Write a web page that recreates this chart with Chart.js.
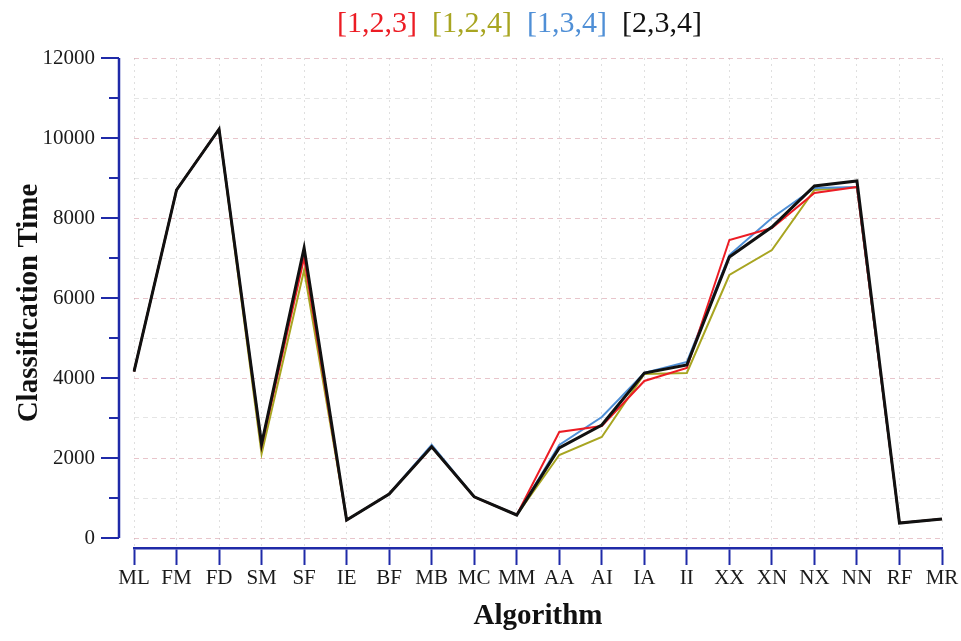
<!DOCTYPE html>
<html>
<head>
<meta charset="utf-8">
<title>Classification Time</title>
<script src="https://cdn.jsdelivr.net/npm/chart.js@4.4.1/dist/chart.umd.min.js"></script>
<style>
  html, body { margin: 0; padding: 0; background: #fff; }
</style>
</head>
<body>
<canvas id="timeChart" width="961" height="641"></canvas>
<script>
// Algorithms on the x axis
const algorithms = ["ML", "FM", "FD", "SM", "SF", "IE", "BF", "MB", "MC", "MM",
                    "AA", "AI", "IA", "II", "XX", "XN", "NX", "NN", "RF", "MR"];

// Classification time for every feature combination
const time_123 = [4160, 8700, 10220, 2300, 7000, 450, 1100, 2280, 1030, 575,
                  2650, 2800, 3925, 4250, 7450, 7750, 8625, 8775, 375, 475];
const time_124 = [4160, 8700, 10220, 2100, 6700, 450, 1100, 2280, 1030, 575,
                  2075, 2525, 4100, 4125, 6575, 7200, 8700, 8775, 375, 475];
const time_134 = [4160, 8700, 10220, 2350, 7100, 450, 1100, 2330, 1030, 575,
                  2325, 3025, 4125, 4400, 7075, 8000, 8750, 8775, 375, 475];
const time_234 = [4160, 8700, 10220, 2350, 7250, 450, 1100, 2280, 1030, 575,
                  2250, 2825, 4125, 4325, 7025, 7775, 8800, 8925, 375, 475];

// Y axis ticks
const yTickLabels = [0, 2000, 4000, 6000, 8000, 10000, 12000];
const yMinorStep = 1000;
const yMax = 12000;

const axisBlue = "#1f2aa8";
const serif = "'Liberation Serif', 'Times New Roman', serif";

// Y axis is drawn a little left of the plot, ending at 0
const yAxisLine = {
    id: "yAxisLine",
    afterDraw(chart) {
        const y = chart.scales.y;
        const ctx = chart.ctx;
        const x0 = chart.chartArea.left - 15;
        ctx.save();
        ctx.strokeStyle = axisBlue;
        ctx.lineWidth = 2.5;
        ctx.beginPath();
        ctx.moveTo(x0, y.getPixelForValue(yMax));
        ctx.lineTo(x0, y.getPixelForValue(0));
        ctx.stroke();
        ctx.lineWidth = 2;
        for (let v = 0; v <= yMax; v += yMinorStep) {
            const len = yTickLabels.includes(v) ? 18 : 10;
            const py = y.getPixelForValue(v);
            ctx.beginPath();
            ctx.moveTo(x0 - len, py);
            ctx.lineTo(x0, py);
            ctx.stroke();
        }
        ctx.restore();
    }
};

// move the legend row a bit to the right
const legendNudge = {
    id: "legendNudge",
    afterLayout(chart) {
        chart.legend.left += 41;
        chart.legend.right += 41;
    }
};

function series(label, data, color, width, order) {
    return {
        label: label,
        data: data,
        borderColor: color,
        backgroundColor: color,
        borderWidth: width,
        pointRadius: 0,
        tension: 0,
        fill: false,
        order: order
    };
}

const ctx = document.getElementById("timeChart").getContext("2d");
new Chart(ctx, {
    type: "line",
    data: {
        labels: algorithms,
        datasets: [
            series("[1,2,3]", time_123, "#ec1c24", 2, 1),
            series("[1,2,4]", time_124, "#a8a521", 2, 3),
            series("[1,3,4]", time_134, "#4f8fd6", 2, 2),
            series("[2,3,4]", time_234, "#111111", 3, 0)
        ]
    },
    options: {
        responsive: false,
        animation: false,
        devicePixelRatio: 1,
        layout: { padding: { left: 0, right: 19, top: 0, bottom: 2 } },
        plugins: {
            tooltip: { enabled: false },
            legend: {
                position: "top",
                labels: {
                    font: { family: serif, size: 30 },
                    boxWidth: 0,
                    boxHeight: 48,
                    padding: 0,
                    generateLabels(chart) {
                        return chart.data.datasets.map((ds, i) => ({
                            text: ds.label,
                            fontColor: ds.borderColor,
                            fillStyle: "rgba(0,0,0,0)",
                            strokeStyle: "rgba(0,0,0,0)",
                            lineWidth: 0,
                            hidden: false,
                            datasetIndex: i
                        }));
                    }
                }
            }
        },
        scales: {
            x: {
                offset: false,
                afterFit(scale) { scale.height = 91; },
                border: { display: true, color: axisBlue, width: 2.5, dash: [2, 4] },
                grid: {
                    color: "rgba(185,185,185,0.45)",
                    lineWidth: 1,
                    drawTicks: true,
                    tickLength: 17,
                    tickColor: axisBlue,
                    tickWidth: 2
                },
                ticks: {
                    color: "#1a1a1a",
                    font: { family: serif, size: 21 },
                    padding: 1,
                    autoSkip: false,
                    maxRotation: 0
                },
                title: {
                    display: true,
                    text: "Algorithm",
                    color: "#111",
                    font: { family: serif, size: 29, weight: "bold" },
                    padding: { top: 0, bottom: 5 }
                }
            },
            y: {
                min: -250,
                max: yMax,
                afterFit(scale) { scale.width = 134; },
                // ticks every 1000 from 0, labels only on the even thousands
                afterBuildTicks(scale) {
                    const list = [];
                    for (let v = 0; v <= yMax; v += yMinorStep) list.push({ value: v });
                    scale.ticks = list;
                },
                border: { display: false, dash: [5, 4] },
                grid: {
                    drawTicks: false,
                    lineWidth: 1,
                    color: (c) => c.tick && yTickLabels.includes(c.tick.value)
                        ? "rgba(214,150,160,0.55)"
                        : "rgba(190,190,190,0.4)"
                },
                ticks: {
                    stepSize: yMinorStep,
                    padding: 39,
                    color: "#1a1a1a",
                    font: { family: serif, size: 21 },
                    callback: (v) => yTickLabels.includes(v) ? String(v) : ""
                },
                title: {
                    display: true,
                    text: "Classification Time",
                    color: "#111",
                    font: { family: serif, size: 29, weight: "bold" },
                    padding: { top: 12, bottom: 0 }
                }
            }
        }
    },
    plugins: [yAxisLine, legendNudge]
});
</script>
</body>
</html>
